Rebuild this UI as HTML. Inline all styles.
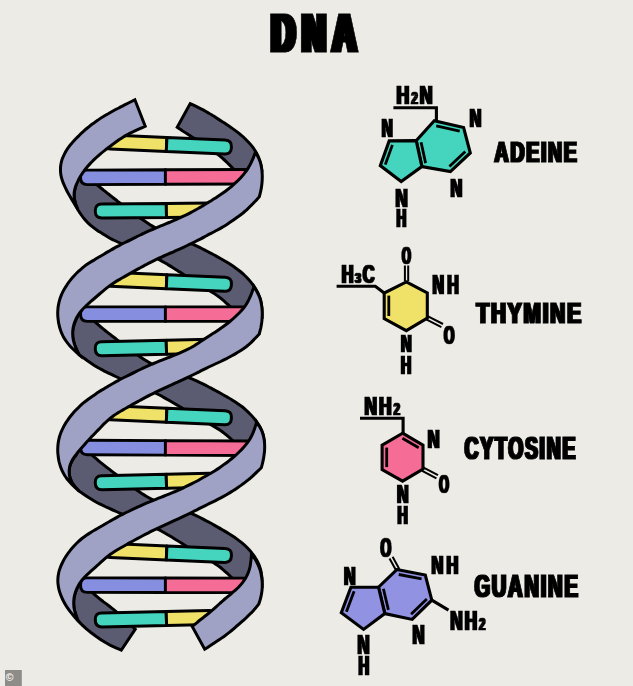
<!DOCTYPE html>
<html lang="en"><head><meta charset="utf-8"><title>DNA</title>
<style>
html,body{margin:0;padding:0;background:#ecebe6;}
body{width:633px;height:686px;overflow:hidden;}
svg{display:block;}
text{font-family:"Liberation Sans",sans-serif;font-weight:bold;fill:#000;}
</style></head><body>
<svg width="633" height="686" viewBox="0 0 633 686">
<defs><filter id="fat1" filterUnits="userSpaceOnUse" x="0" y="0" width="633" height="686"><feMorphology operator="dilate" radius="1 0"/></filter><filter id="fat2" filterUnits="userSpaceOnUse" x="0" y="0" width="633" height="686"><feMorphology operator="dilate" radius="2 0"/></filter><filter id="fat3" filterUnits="userSpaceOnUse" x="0" y="0" width="633" height="686"><feMorphology operator="dilate" radius="3 0"/></filter></defs>
<rect width="633" height="686" fill="#ecebe6"/>
<g stroke="#000" stroke-width="3.0" stroke-linejoin="miter" stroke-miterlimit="6">
<g><path d="M190.2 103.6C191.1 104.0 193.8 105.3 195.6 106.2C197.4 107.1 199.2 108.0 201.0 108.9C202.8 109.8 204.5 110.7 206.3 111.7C208.0 112.7 209.8 113.7 211.5 114.7C213.2 115.8 214.9 116.8 216.6 117.9C218.2 119.0 219.9 120.1 221.6 121.2C223.3 122.3 224.9 123.4 226.6 124.5C228.3 125.6 229.9 126.7 231.6 127.9C233.2 129.1 234.8 130.2 236.4 131.4C238.0 132.6 239.6 133.9 241.1 135.2C242.7 136.5 244.2 137.8 245.6 139.2C247.0 140.6 248.4 142.0 249.7 143.5C251.1 145.0 252.3 146.6 253.5 148.2C254.6 149.9 255.7 151.6 256.7 153.3C257.6 155.1 258.5 156.9 259.1 158.7C259.8 160.6 260.3 162.5 260.8 164.5C261.2 166.4 261.6 169.4 261.8 170.4L240.0 176.0C239.3 175.3 237.2 173.0 235.8 171.5C234.4 170.0 233.0 168.5 231.6 167.0C230.2 165.6 228.7 164.1 227.3 162.7C225.8 161.2 224.3 159.8 222.8 158.5C221.3 157.1 219.7 155.8 218.1 154.6C216.5 153.3 214.8 152.1 213.1 150.9C211.5 149.7 209.7 148.6 208.0 147.5C206.3 146.3 204.6 145.2 202.9 144.1C201.2 143.0 199.5 141.8 197.8 140.7C196.1 139.6 194.4 138.5 192.6 137.4C190.9 136.2 189.2 135.1 187.5 134.0C185.8 132.9 184.1 131.8 182.3 130.7C180.6 129.5 178.1 127.9 177.2 127.3Z" fill="#5b5c72"/>
<path d="M80.0 172.0C80.8 172.6 83.2 174.4 84.7 175.6C86.3 176.7 87.9 177.9 89.5 179.1C91.0 180.3 92.6 181.5 94.2 182.7C95.8 183.9 97.3 185.2 98.9 186.4C100.4 187.6 102.0 188.8 103.5 190.1C105.0 191.3 106.6 192.6 108.1 193.8C109.7 195.0 111.2 196.3 112.8 197.5C114.3 198.7 115.9 199.9 117.4 201.1C119.0 202.3 120.6 203.5 122.2 204.7C123.7 205.9 125.3 207.1 126.9 208.3C128.5 209.4 130.1 210.6 131.7 211.8C133.2 213.0 134.8 214.1 136.4 215.3C138.0 216.5 139.6 217.6 141.3 218.8C142.9 219.9 144.5 221.0 146.1 222.1C147.8 223.2 149.4 224.3 151.1 225.4C152.8 226.4 154.5 227.4 156.2 228.4C157.9 229.4 159.6 230.3 161.4 231.2C163.2 232.1 165.0 233.0 166.8 233.8C168.6 234.6 170.4 235.3 172.2 236.1C174.1 236.8 175.9 237.5 177.8 238.2C179.6 238.9 181.5 239.6 183.3 240.3C185.1 241.0 187.0 241.7 188.8 242.5C190.6 243.2 192.4 244.0 194.2 244.8C196.0 245.7 197.8 246.5 199.6 247.4C201.4 248.3 203.1 249.2 204.9 250.1C206.7 251.0 208.4 251.9 210.1 252.8C211.9 253.7 213.6 254.7 215.4 255.6C217.1 256.6 218.8 257.6 220.5 258.5C222.3 259.5 224.0 260.5 225.7 261.5C227.3 262.5 229.0 263.6 230.7 264.6C232.4 265.7 234.0 266.8 235.6 268.0C237.2 269.1 238.8 270.3 240.3 271.5C241.9 272.8 243.4 274.1 244.8 275.5C246.2 276.8 247.6 278.3 248.9 279.8C250.2 281.2 251.4 282.8 252.6 284.4C253.8 286.0 254.9 287.6 255.9 289.3C256.9 291.0 257.9 292.8 258.6 294.6C259.4 296.4 260.1 298.2 260.6 300.1C261.1 302.0 261.4 304.0 261.6 305.9C261.9 307.9 262.0 309.9 262.0 311.8C262.1 313.8 262.1 316.8 262.1 317.8L262.1 317.8C260.1 318.8 254.3 324.5 250.0 323.6C245.7 322.7 238.3 314.3 236.0 312.5L236.0 312.5C235.3 311.8 233.2 309.7 231.8 308.3C230.3 306.9 228.9 305.5 227.5 304.1C226.0 302.8 224.5 301.4 223.0 300.2C221.5 298.9 219.9 297.6 218.3 296.4C216.7 295.3 215.1 294.1 213.4 293.0C211.8 292.0 210.1 290.9 208.4 289.9C206.7 288.9 204.9 287.9 203.2 286.8C201.5 285.8 199.8 284.8 198.1 283.8C196.4 282.7 194.7 281.7 193.0 280.6C191.4 279.6 189.7 278.5 188.0 277.4C186.3 276.3 184.7 275.2 183.0 274.1C181.3 273.1 179.7 272.0 178.0 270.9C176.3 269.8 174.7 268.7 173.0 267.7C171.3 266.6 169.6 265.6 167.9 264.6C166.2 263.5 164.5 262.5 162.7 261.6C161.0 260.6 159.2 259.6 157.5 258.7C155.7 257.9 153.9 257.0 152.1 256.2C150.2 255.4 148.4 254.6 146.6 253.9C144.7 253.1 142.9 252.4 141.0 251.7C139.2 250.9 137.3 250.2 135.5 249.5C133.6 248.7 131.8 248.0 129.9 247.2C128.1 246.4 126.3 245.7 124.4 244.9C122.6 244.1 120.8 243.4 118.9 242.5C117.1 241.7 115.3 240.9 113.5 240.0C111.8 239.1 110.0 238.2 108.3 237.2C106.5 236.2 104.8 235.2 103.1 234.1C101.4 233.1 99.8 232.0 98.1 230.9C96.5 229.8 94.8 228.7 93.2 227.4C91.6 226.2 90.1 225.0 88.7 223.6C87.2 222.3 85.9 220.8 84.6 219.3C83.3 217.8 82.2 216.2 81.0 214.5C79.9 212.9 78.3 210.3 77.8 209.5L77.8 209.5C77.5 208.6 76.3 206.0 75.7 204.2C75.2 202.5 74.6 200.7 74.4 198.9C74.1 197.1 74.1 195.3 74.2 193.5C74.4 191.7 74.8 189.9 75.2 188.1C75.7 186.3 76.3 184.5 76.8 182.7C77.4 180.9 78.0 179.2 78.5 177.4C79.0 175.6 79.7 172.9 80.0 172.0Z" fill="#5b5c72"/>
<path d="M80.0 307.7C80.7 308.4 82.8 310.4 84.3 311.8C85.7 313.2 87.1 314.5 88.6 315.9C90.0 317.3 91.5 318.6 92.9 320.0C94.4 321.3 95.8 322.6 97.3 323.9C98.8 325.3 100.3 326.5 101.9 327.8C103.4 329.1 104.9 330.3 106.5 331.6C108.0 332.8 109.6 334.0 111.1 335.2C112.7 336.4 114.3 337.6 115.9 338.8C117.4 340.0 119.0 341.2 120.6 342.4C122.2 343.6 123.8 344.8 125.4 346.0C126.9 347.2 128.5 348.4 130.1 349.6C131.7 350.7 133.3 351.9 134.9 353.1C136.5 354.2 138.1 355.4 139.8 356.5C141.4 357.6 143.1 358.7 144.7 359.8C146.4 360.8 148.1 361.9 149.8 362.8C151.6 363.8 153.3 364.7 155.1 365.6C156.9 366.5 158.7 367.3 160.5 368.1C162.3 368.9 164.2 369.6 166.0 370.3C167.9 371.0 169.8 371.6 171.6 372.2C173.5 372.8 175.4 373.4 177.3 374.0C179.2 374.6 181.1 375.1 183.0 375.7C184.9 376.3 186.8 377.0 188.6 377.6C190.5 378.3 192.3 379.1 194.1 379.8C196.0 380.6 197.8 381.4 199.6 382.3C201.3 383.1 203.1 384.0 204.9 384.9C206.6 385.8 208.4 386.8 210.1 387.7C211.9 388.6 213.6 389.6 215.4 390.5C217.1 391.4 218.9 392.4 220.6 393.3C222.4 394.3 224.1 395.2 225.8 396.2C227.5 397.2 229.3 398.2 231.0 399.2C232.7 400.2 234.3 401.3 236.0 402.4C237.6 403.5 239.3 404.6 240.8 405.8C242.4 407.0 244.0 408.3 245.5 409.6C246.9 410.9 248.4 412.2 249.8 413.7C251.2 415.1 252.5 416.5 253.8 418.1C255.0 419.6 256.3 421.2 257.4 422.8C258.5 424.4 259.6 426.1 260.5 427.9C261.4 429.6 262.1 431.5 262.7 433.3C263.3 435.2 263.7 437.1 264.0 439.1C264.3 441.0 264.4 443.0 264.5 445.0C264.5 447.0 264.4 450.0 264.4 451.0L264.4 451.0C262.4 452.0 256.5 458.0 252.1 457.2C247.7 456.3 240.4 447.8 238.1 446.0L238.1 446.0C237.4 445.3 235.3 443.1 233.9 441.8C232.4 440.4 231.0 439.0 229.5 437.7C228.0 436.4 226.5 435.1 225.0 433.9C223.4 432.6 221.8 431.4 220.2 430.3C218.6 429.2 216.9 428.1 215.2 427.1C213.5 426.1 211.7 425.1 210.0 424.2C208.3 423.2 206.5 422.3 204.8 421.3C203.0 420.4 201.3 419.4 199.6 418.4C197.8 417.5 196.1 416.5 194.4 415.5C192.7 414.5 191.0 413.5 189.3 412.5C187.6 411.4 185.9 410.4 184.2 409.4C182.5 408.3 180.8 407.3 179.1 406.3C177.4 405.2 175.7 404.2 174.0 403.2C172.3 402.2 170.6 401.2 168.9 400.2C167.2 399.2 165.4 398.2 163.7 397.3C161.9 396.3 160.2 395.4 158.4 394.5C156.6 393.6 154.8 392.8 153.0 392.0C151.2 391.1 149.4 390.4 147.6 389.6C145.7 388.9 143.9 388.2 142.0 387.4C140.2 386.7 138.3 386.0 136.5 385.3C134.6 384.6 132.8 383.9 130.9 383.2C129.1 382.4 127.2 381.7 125.4 380.9C123.6 380.2 121.8 379.4 120.0 378.5C118.2 377.7 116.4 376.9 114.6 376.0C112.8 375.1 111.0 374.3 109.2 373.4C107.5 372.5 105.7 371.7 103.9 370.8C102.1 369.9 100.4 368.9 98.6 368.0C96.9 367.0 95.2 366.0 93.6 364.9C91.9 363.8 90.3 362.7 88.6 361.6C87.0 360.4 85.4 359.2 83.8 358.1C82.2 356.9 79.8 355.1 79.0 354.6L79.0 354.6C78.5 353.6 77.1 350.8 76.3 348.9C75.4 346.9 74.6 345.0 74.1 343.0C73.5 340.9 73.0 338.9 72.8 336.8C72.6 334.7 72.6 332.6 72.8 330.5C73.0 328.5 73.6 326.4 74.2 324.5C74.8 322.5 75.8 320.6 76.5 318.7C77.2 316.8 78.0 315.0 78.6 313.1C79.2 311.3 79.8 308.6 80.0 307.7Z" fill="#5b5c72"/>
<path d="M80.2 443.9C81.0 444.6 83.2 446.7 84.6 448.1C86.1 449.4 87.6 450.8 89.1 452.2C90.6 453.6 92.0 454.9 93.5 456.3C95.0 457.6 96.6 458.9 98.1 460.3C99.6 461.6 101.2 462.9 102.7 464.1C104.3 465.4 105.9 466.7 107.5 467.9C109.1 469.2 110.7 470.4 112.3 471.6C113.9 472.8 115.5 474.1 117.1 475.3C118.7 476.5 120.3 477.7 121.9 478.9C123.5 480.1 125.1 481.4 126.7 482.6C128.3 483.8 130.0 485.0 131.6 486.2C133.2 487.4 134.8 488.6 136.5 489.8C138.1 491.0 139.8 492.1 141.4 493.3C143.1 494.4 144.8 495.5 146.6 496.5C148.3 497.5 150.1 498.5 151.9 499.4C153.7 500.3 155.5 501.1 157.3 501.9C159.2 502.7 161.1 503.5 163.0 504.2C164.9 504.9 166.8 505.5 168.7 506.2C170.6 506.8 172.5 507.4 174.5 508.0C176.4 508.6 178.3 509.1 180.3 509.7C182.2 510.3 184.1 510.9 186.0 511.6C187.9 512.2 189.8 512.9 191.7 513.7C193.6 514.4 195.4 515.3 197.2 516.1C199.1 517.0 200.9 517.9 202.7 518.8C204.4 519.7 206.2 520.7 208.0 521.7C209.8 522.6 211.5 523.6 213.3 524.6C215.0 525.6 216.8 526.6 218.6 527.6C220.3 528.6 222.1 529.6 223.8 530.6C225.5 531.6 227.3 532.7 229.0 533.7C230.7 534.8 232.4 535.9 234.1 537.0C235.7 538.2 237.4 539.3 239.0 540.6C240.6 541.8 242.2 543.1 243.7 544.4C245.2 545.7 246.6 547.1 248.0 548.6C249.4 550.1 250.8 551.6 252.0 553.2C253.3 554.8 254.5 556.4 255.5 558.1C256.6 559.8 257.6 561.6 258.4 563.4C259.3 565.2 259.9 567.1 260.5 569.1C261.0 571.0 261.4 573.0 261.6 575.0C261.9 577.0 262.0 579.0 262.0 581.0C262.1 583.0 262.1 586.1 262.1 587.1L262.1 587.1C260.1 588.1 254.3 593.8 250.0 592.9C245.7 592.1 238.3 583.7 236.0 581.9L236.0 581.9C235.3 581.2 233.1 579.0 231.7 577.6C230.2 576.2 228.8 574.8 227.3 573.4C225.8 572.0 224.3 570.6 222.7 569.3C221.2 568.0 219.6 566.8 217.9 565.6C216.3 564.4 214.6 563.3 212.9 562.2C211.2 561.1 209.4 560.1 207.7 559.1C205.9 558.1 204.2 557.1 202.4 556.0C200.7 555.0 198.9 554.0 197.2 553.0C195.4 551.9 193.7 550.9 192.0 549.8C190.2 548.7 188.5 547.6 186.8 546.6C185.1 545.5 183.4 544.4 181.7 543.3C180.0 542.2 178.3 541.1 176.5 540.0C174.8 539.0 173.1 537.9 171.4 536.8C169.6 535.8 167.9 534.7 166.1 533.7C164.4 532.7 162.6 531.7 160.8 530.7C159.0 529.8 157.2 528.9 155.4 528.0C153.6 527.1 151.7 526.3 149.9 525.5C148.0 524.6 146.1 523.9 144.3 523.1C142.4 522.4 140.5 521.6 138.6 520.9C136.7 520.2 134.8 519.4 132.9 518.7C131.0 517.9 129.2 517.2 127.3 516.4C125.4 515.6 123.6 514.8 121.7 514.0C119.9 513.2 118.0 512.3 116.2 511.5C114.3 510.6 112.5 509.8 110.6 509.0C108.8 508.1 106.9 507.3 105.1 506.5C103.3 505.6 101.4 504.8 99.6 503.9C97.8 503.0 96.0 502.0 94.2 501.0C92.5 500.0 90.7 498.9 89.0 497.8C87.3 496.7 85.7 495.6 84.0 494.4C82.3 493.3 79.9 491.5 79.0 490.9L79.0 490.9C78.3 490.2 76.1 488.1 74.8 486.6C73.6 485.0 72.4 483.4 71.5 481.6C70.7 479.9 70.0 478.0 69.6 476.0C69.2 474.1 69.0 472.0 69.2 470.1C69.3 468.1 69.8 466.1 70.5 464.3C71.2 462.4 72.3 460.7 73.3 459.0C74.3 457.3 75.7 455.7 76.7 454.1C77.7 452.4 78.5 450.8 79.1 449.1C79.7 447.4 80.1 444.8 80.2 443.9Z" fill="#5b5c72"/><path d="M81.0 581.1C81.7 581.8 83.8 584.0 85.3 585.4C86.7 586.8 88.1 588.3 89.6 589.7C91.0 591.1 92.5 592.5 93.9 593.8C95.4 595.2 96.9 596.5 98.5 597.8C100.0 599.1 101.6 600.3 103.2 601.6C104.8 602.8 106.5 604.0 108.1 605.2C109.7 606.4 111.3 607.7 112.8 608.9C114.4 610.2 116.0 611.5 117.5 612.8C119.0 614.1 120.5 615.5 122.0 616.8C123.5 618.2 125.0 619.6 126.4 620.9C127.9 622.3 129.4 623.7 130.9 625.1C132.3 626.4 134.6 628.5 135.3 629.2L121.3 650.2C120.4 649.8 117.7 648.6 115.9 647.8C114.1 647.0 112.4 646.2 110.6 645.3C108.9 644.4 107.2 643.5 105.5 642.5C103.8 641.5 102.1 640.5 100.5 639.4C98.8 638.3 97.2 637.2 95.6 636.1C94.0 634.9 92.5 633.7 90.9 632.5C89.4 631.3 87.9 630.1 86.4 628.8C85.0 627.5 83.5 626.1 82.1 624.8C80.7 623.4 78.7 621.3 78.0 620.6L78.0 620.6C77.6 619.7 76.5 616.9 75.9 615.0C75.3 613.1 74.7 611.2 74.3 609.3C73.9 607.3 73.7 605.3 73.7 603.4C73.6 601.4 73.8 599.4 74.2 597.5C74.5 595.6 75.0 593.6 75.7 591.8C76.4 589.9 77.2 588.1 78.1 586.3C79.0 584.6 80.5 582.0 81.0 581.1Z" fill="#5b5c72"/></g>
<g><path d="M166.9 137.5 L110.9 135.1 Q104.3 134.8 104.0 141.4 L104.0 142.2 Q103.7 148.8 110.3 149.1 L166.3 151.5 Z" fill="#f0e268" stroke="#000" stroke-width="3.0" stroke-linejoin="round"/><path d="M166.9 137.5 L225.1 140.0 Q231.7 140.3 231.4 146.9 L231.4 147.7 Q231.1 154.3 224.5 154.0 L166.3 151.5 Z" fill="#45d4be" stroke="#000" stroke-width="3.0" stroke-linejoin="round"/>
<path d="M165.4 169.8 L87.2 170.1 Q80.6 170.2 80.6 176.8 L80.6 178.0 Q80.6 184.6 87.2 184.6 L165.4 184.3 Z" fill="#868ee0" stroke="#000" stroke-width="2.9" stroke-linejoin="round"/><path d="M165.4 169.8 L249.4 169.5 Q256.0 169.5 256.0 176.1 L256.0 177.3 Q256.0 183.9 249.4 184.0 L165.4 184.3 Z" fill="#f56d97" stroke="#000" stroke-width="2.9" stroke-linejoin="round"/>
<path d="M166.3 203.4 L101.8 204.0 Q95.2 204.1 95.3 210.7 L95.3 211.5 Q95.4 218.1 102.0 218.0 L166.5 217.4 Z" fill="#45d4be" stroke="#000" stroke-width="3.0" stroke-linejoin="round"/><path d="M166.3 203.4 L209.3 203.0 Q215.9 202.9 216.0 209.5 L216.0 210.3 Q216.1 216.9 209.5 217.0 L166.5 217.4 Z" fill="#f0e268" stroke="#000" stroke-width="3.0" stroke-linejoin="round"/>
<path d="M166.9 274.7 L110.9 272.3 Q104.3 272.0 104.0 278.6 L104.0 279.4 Q103.7 286.0 110.3 286.3 L166.3 288.7 Z" fill="#f0e268" stroke="#000" stroke-width="3.0" stroke-linejoin="round"/><path d="M166.9 274.7 L225.1 277.2 Q231.7 277.5 231.4 284.1 L231.4 284.9 Q231.1 291.5 224.5 291.2 L166.3 288.7 Z" fill="#45d4be" stroke="#000" stroke-width="3.0" stroke-linejoin="round"/>
<path d="M165.4 306.9 L87.2 306.9 Q80.6 306.9 80.6 313.6 L80.6 314.8 Q80.6 321.4 87.2 321.4 L165.4 321.4 Z" fill="#868ee0" stroke="#000" stroke-width="2.9" stroke-linejoin="round"/><path d="M165.4 306.9 L249.4 306.9 Q256.0 306.9 256.0 313.6 L256.0 314.8 Q256.0 321.4 249.4 321.4 L165.4 321.4 Z" fill="#f56d97" stroke="#000" stroke-width="2.9" stroke-linejoin="round"/>
<path d="M166.2 340.3 L101.7 341.8 Q95.1 341.9 95.3 348.5 L95.3 349.3 Q95.5 355.9 102.1 355.8 L166.6 354.3 Z" fill="#45d4be" stroke="#000" stroke-width="3.0" stroke-linejoin="round"/><path d="M166.2 340.3 L209.2 339.3 Q215.8 339.2 216.0 345.8 L216.0 346.6 Q216.2 353.2 209.6 353.3 L166.6 354.3 Z" fill="#f0e268" stroke="#000" stroke-width="3.0" stroke-linejoin="round"/>
<path d="M166.9 408.2 L110.9 405.8 Q104.3 405.5 104.0 412.1 L104.0 412.9 Q103.7 419.5 110.3 419.8 L166.3 422.2 Z" fill="#f0e268" stroke="#000" stroke-width="3.0" stroke-linejoin="round"/><path d="M166.9 408.2 L225.1 410.7 Q231.7 411.0 231.4 417.6 L231.4 418.4 Q231.1 425.0 224.5 424.7 L166.3 422.2 Z" fill="#45d4be" stroke="#000" stroke-width="3.0" stroke-linejoin="round"/>
<path d="M165.4 440.6 L87.2 440.3 Q80.6 440.3 80.6 446.9 L80.6 448.1 Q80.6 454.7 87.2 454.8 L165.4 455.1 Z" fill="#868ee0" stroke="#000" stroke-width="2.9" stroke-linejoin="round"/><path d="M165.4 440.6 L249.4 441.0 Q256.0 441.1 256.0 447.7 L256.0 448.9 Q256.0 455.5 249.4 455.5 L165.4 455.1 Z" fill="#f56d97" stroke="#000" stroke-width="2.9" stroke-linejoin="round"/>
<path d="M166.2 474.2 L101.7 475.7 Q95.1 475.8 95.3 482.4 L95.3 483.2 Q95.5 489.8 102.1 489.7 L166.6 488.2 Z" fill="#45d4be" stroke="#000" stroke-width="3.0" stroke-linejoin="round"/><path d="M166.2 474.2 L209.2 473.2 Q215.8 473.1 216.0 479.7 L216.0 480.5 Q216.2 487.1 209.6 487.2 L166.6 488.2 Z" fill="#f0e268" stroke="#000" stroke-width="3.0" stroke-linejoin="round"/>
<path d="M166.9 545.9 L110.9 543.5 Q104.3 543.2 104.0 549.8 L104.0 550.6 Q103.7 557.2 110.3 557.5 L166.3 559.9 Z" fill="#f0e268" stroke="#000" stroke-width="3.0" stroke-linejoin="round"/><path d="M166.9 545.9 L225.1 548.4 Q231.7 548.7 231.4 555.3 L231.4 556.1 Q231.1 562.7 224.5 562.4 L166.3 559.9 Z" fill="#45d4be" stroke="#000" stroke-width="3.0" stroke-linejoin="round"/>
<path d="M165.4 578.0 L87.2 577.9 Q80.6 577.9 80.6 584.5 L80.6 585.7 Q80.6 592.3 87.2 592.4 L165.4 592.5 Z" fill="#868ee0" stroke="#000" stroke-width="2.9" stroke-linejoin="round"/><path d="M165.4 578.0 L249.4 578.1 Q256.0 578.2 256.0 584.8 L256.0 586.0 Q256.0 592.6 249.4 592.6 L165.4 592.5 Z" fill="#f56d97" stroke="#000" stroke-width="2.9" stroke-linejoin="round"/>
<path d="M166.2 611.4 L101.7 612.9 Q95.1 613.0 95.3 619.6 L95.3 620.4 Q95.5 627.0 102.1 626.9 L166.6 625.4 Z" fill="#45d4be" stroke="#000" stroke-width="3.0" stroke-linejoin="round"/><path d="M166.2 611.4 L209.2 610.4 Q215.8 610.3 216.0 616.9 L216.0 617.7 Q216.2 624.3 209.6 624.4 L166.6 625.4 Z" fill="#f0e268" stroke="#000" stroke-width="3.0" stroke-linejoin="round"/></g>
<g><path d="M134.9 99.8C134.0 100.3 131.3 101.6 129.5 102.5C127.7 103.4 125.9 104.3 124.1 105.2C122.4 106.1 120.6 107.0 118.8 108.0C117.0 108.9 115.2 109.8 113.4 110.8C111.7 111.7 109.9 112.7 108.2 113.7C106.4 114.7 104.7 115.7 103.0 116.8C101.3 117.8 99.6 118.9 98.0 120.1C96.3 121.2 94.7 122.4 93.1 123.6C91.4 124.8 89.9 126.0 88.3 127.3C86.7 128.5 85.2 129.8 83.7 131.2C82.2 132.5 80.7 133.9 79.3 135.3C77.9 136.6 76.4 138.1 75.1 139.5C73.7 141.0 72.3 142.5 71.1 144.1C69.8 145.6 68.6 147.2 67.4 148.9C66.3 150.6 65.3 152.3 64.4 154.1C63.5 155.9 62.7 157.7 62.0 159.6C61.4 161.5 61.0 163.5 60.7 165.5C60.4 167.5 60.4 169.5 60.5 171.5C60.6 173.4 60.9 175.4 61.4 177.4C61.9 179.3 62.5 181.2 63.3 183.1C64.0 185.0 64.9 186.8 65.8 188.6C66.6 190.4 67.6 192.2 68.6 193.9C69.6 195.7 70.6 197.4 71.6 199.2C72.6 200.9 73.7 202.6 74.7 204.3C75.7 206.1 77.3 208.6 77.8 209.5L77.8 209.5C77.4 208.6 76.2 205.8 75.6 203.9C75.1 202.0 74.5 200.1 74.3 198.2C74.0 196.3 74.0 194.4 74.2 192.5C74.4 190.5 74.9 188.6 75.5 186.8C76.1 184.9 76.9 183.1 77.8 181.3C78.6 179.5 79.6 177.7 80.6 176.0C81.6 174.4 82.7 172.7 83.9 171.1C85.0 169.5 86.3 168.0 87.5 166.5C88.8 165.0 90.2 163.6 91.5 162.2C92.9 160.7 94.3 159.4 95.8 158.0C97.2 156.7 98.7 155.4 100.2 154.1C101.7 152.8 103.2 151.6 104.8 150.4C106.3 149.2 107.9 148.0 109.5 146.8C111.0 145.6 112.6 144.4 114.2 143.3C115.8 142.1 117.4 141.0 119.0 139.8C120.7 138.7 122.3 137.7 124.0 136.6C125.7 135.6 127.4 134.7 129.1 133.7C130.8 132.8 132.6 131.9 134.4 131.1C136.2 130.3 138.0 129.5 139.8 128.7C141.6 127.9 144.3 126.7 145.2 126.3Z" fill="#9fa2c5"/>
<path d="M255.5 152.0C255.1 152.9 254.1 155.8 253.4 157.7C252.6 159.5 251.8 161.4 250.9 163.2C250.0 165.0 249.0 166.8 248.0 168.4C246.9 170.1 245.7 171.8 244.4 173.3C243.2 174.9 241.8 176.4 240.5 177.9C239.1 179.4 237.7 180.8 236.2 182.2C234.7 183.6 233.2 185.0 231.7 186.3C230.2 187.6 228.6 188.8 227.0 190.0C225.4 191.3 223.7 192.4 222.1 193.6C220.4 194.7 218.7 195.8 217.0 196.9C215.4 198.0 213.6 199.1 211.9 200.2C210.2 201.2 208.5 202.3 206.8 203.3C205.1 204.4 203.3 205.4 201.6 206.5C199.9 207.5 198.1 208.5 196.4 209.5C194.6 210.5 192.9 211.5 191.1 212.4C189.3 213.4 187.5 214.3 185.7 215.2C183.9 216.0 182.0 216.9 180.2 217.7C178.4 218.6 176.5 219.4 174.7 220.2C172.8 221.0 171.0 221.7 169.1 222.5C167.2 223.3 165.4 224.0 163.5 224.8C161.6 225.6 159.8 226.3 157.9 227.1C156.0 227.9 154.2 228.7 152.3 229.5C150.5 230.3 148.6 231.1 146.8 231.9C145.0 232.8 143.2 233.7 141.3 234.5C139.5 235.4 137.7 236.3 135.9 237.1C134.1 238.0 132.3 238.9 130.5 239.8C128.6 240.7 126.8 241.6 125.0 242.5C123.2 243.4 121.4 244.3 119.7 245.3C117.9 246.2 116.1 247.2 114.3 248.1C112.6 249.1 110.8 250.1 109.1 251.1C107.3 252.1 105.6 253.1 103.9 254.2C102.1 255.2 100.4 256.2 98.6 257.3C96.9 258.3 95.2 259.3 93.5 260.4C91.7 261.4 90.0 262.5 88.3 263.6C86.7 264.7 85.0 265.9 83.4 267.1C81.9 268.4 80.3 269.7 78.8 271.0C77.4 272.4 75.9 273.8 74.6 275.3C73.2 276.8 71.9 278.3 70.6 279.9C69.3 281.5 68.1 283.1 67.0 284.8C65.9 286.4 64.8 288.2 63.8 289.9C62.9 291.7 62.0 293.5 61.2 295.4C60.5 297.2 59.8 299.2 59.3 301.1C58.8 303.0 58.4 305.0 58.1 307.0C57.9 309.0 57.7 311.0 57.7 313.1C57.7 315.1 57.8 317.1 58.1 319.1C58.3 321.1 58.6 323.1 59.1 325.1C59.5 327.1 60.1 329.0 60.8 330.9C61.5 332.8 62.3 334.6 63.2 336.4C64.2 338.2 65.3 339.9 66.4 341.5C67.6 343.2 68.9 344.7 70.2 346.2C71.6 347.7 73.0 349.1 74.5 350.5C75.9 351.9 78.2 353.9 79.0 354.6L79.0 354.6C78.6 353.6 77.2 350.9 76.4 349.1C75.6 347.2 74.8 345.4 74.2 343.4C73.6 341.5 73.2 339.5 72.9 337.5C72.7 335.6 72.6 333.5 72.7 331.5C72.8 329.5 73.1 327.5 73.6 325.6C74.1 323.6 74.7 321.7 75.6 319.9C76.4 318.0 77.4 316.3 78.5 314.6C79.6 312.9 80.9 311.3 82.2 309.8C83.5 308.3 85.0 306.9 86.4 305.5C87.9 304.1 89.4 302.7 90.9 301.4C92.5 300.1 94.0 298.8 95.5 297.5C97.1 296.1 98.6 294.8 100.1 293.5C101.6 292.2 103.2 290.8 104.7 289.6C106.3 288.3 107.9 287.1 109.5 285.9C111.1 284.7 112.8 283.6 114.5 282.5C116.2 281.4 117.9 280.4 119.7 279.4C121.4 278.3 123.2 277.4 124.9 276.4C126.7 275.4 128.4 274.4 130.2 273.4C132.0 272.4 133.7 271.4 135.5 270.4C137.2 269.4 139.0 268.5 140.8 267.5C142.6 266.6 144.3 265.6 146.1 264.7C147.9 263.7 149.7 262.8 151.5 261.9C153.3 261.0 155.1 260.1 156.9 259.2C158.8 258.4 160.6 257.5 162.4 256.7C164.3 255.9 166.1 255.0 167.9 254.2C169.8 253.4 171.6 252.6 173.5 251.8C175.3 250.9 177.2 250.1 179.0 249.3C180.8 248.5 182.7 247.6 184.5 246.8C186.3 245.9 188.2 245.1 190.0 244.2C191.8 243.3 193.6 242.5 195.4 241.5C197.2 240.6 199.0 239.7 200.8 238.8C202.6 237.9 204.4 236.9 206.1 236.0C207.9 235.0 209.7 234.1 211.5 233.2C213.3 232.2 215.1 231.3 216.9 230.3C218.6 229.4 220.4 228.4 222.1 227.4C223.9 226.3 225.6 225.3 227.3 224.2C229.0 223.1 230.6 222.0 232.3 220.8C234.0 219.7 235.6 218.5 237.2 217.3C238.9 216.1 240.5 214.9 242.1 213.7C243.6 212.4 245.2 211.1 246.7 209.8C248.2 208.5 249.6 207.1 251.0 205.6C252.5 204.2 253.8 202.7 255.2 201.3C256.6 199.8 258.6 197.5 259.3 196.8L259.3 196.8C259.5 195.9 260.3 193.1 260.7 191.2C261.1 189.3 261.5 187.4 261.7 185.5C262.0 183.6 262.1 181.6 262.2 179.7C262.3 177.8 262.3 175.8 262.2 173.9C262.1 171.9 261.9 170.0 261.6 168.1C261.3 166.2 260.9 164.3 260.4 162.5C259.8 160.6 259.1 158.9 258.2 157.1C257.4 155.4 256.0 152.9 255.5 152.0Z" fill="#9fa2c5"/>
<path d="M254.0 286.7C253.7 287.7 252.6 290.5 251.9 292.4C251.2 294.3 250.5 296.2 249.6 298.0C248.8 299.9 247.9 301.7 246.8 303.4C245.8 305.1 244.6 306.7 243.4 308.3C242.1 309.9 240.8 311.3 239.4 312.8C238.0 314.2 236.5 315.6 235.0 317.0C233.5 318.4 232.0 319.7 230.4 321.0C228.9 322.3 227.3 323.6 225.7 324.8C224.1 326.0 222.5 327.2 220.8 328.3C219.2 329.5 217.5 330.6 215.8 331.7C214.1 332.8 212.4 333.8 210.7 334.9C209.0 336.0 207.3 337.1 205.6 338.2C203.9 339.4 202.3 340.5 200.6 341.6C198.9 342.7 197.2 343.9 195.5 344.9C193.8 346.0 192.1 347.0 190.3 348.0C188.5 348.9 186.7 349.8 184.9 350.7C183.1 351.5 181.2 352.3 179.4 353.1C177.5 353.9 175.6 354.6 173.8 355.4C171.9 356.1 170.0 356.9 168.1 357.6C166.3 358.4 164.4 359.1 162.5 359.8C160.6 360.6 158.8 361.3 156.9 362.1C155.0 362.9 153.2 363.6 151.3 364.4C149.5 365.2 147.6 366.1 145.8 366.9C144.0 367.7 142.1 368.6 140.3 369.5C138.5 370.3 136.7 371.2 134.9 372.1C133.0 373.0 131.2 373.9 129.4 374.8C127.6 375.7 125.8 376.6 124.0 377.5C122.2 378.4 120.4 379.3 118.7 380.3C116.9 381.2 115.1 382.2 113.4 383.2C111.6 384.2 109.9 385.2 108.1 386.2C106.4 387.3 104.7 388.3 103.0 389.4C101.2 390.4 99.5 391.5 97.8 392.6C96.2 393.7 94.5 394.8 92.8 396.0C91.1 397.1 89.5 398.3 87.9 399.5C86.3 400.7 84.7 401.9 83.1 403.2C81.6 404.5 80.1 405.9 78.7 407.3C77.2 408.7 75.8 410.1 74.4 411.6C73.1 413.1 71.8 414.7 70.5 416.3C69.3 417.8 68.1 419.5 67.0 421.2C65.8 422.8 64.8 424.6 63.8 426.3C62.9 428.1 62.0 429.9 61.2 431.8C60.5 433.7 59.8 435.6 59.3 437.5C58.8 439.5 58.4 441.5 58.1 443.5C57.9 445.4 57.8 447.5 57.7 449.5C57.7 451.5 57.8 453.5 58.1 455.5C58.3 457.5 58.6 459.6 59.0 461.5C59.5 463.5 60.0 465.4 60.7 467.3C61.4 469.2 62.2 471.1 63.2 472.8C64.1 474.6 65.2 476.3 66.4 478.0C67.6 479.6 68.9 481.1 70.2 482.6C71.5 484.1 73.0 485.5 74.5 486.9C75.9 488.3 78.3 490.3 79.0 490.9L79.0 490.9C78.3 490.2 76.1 488.1 74.9 486.6C73.6 485.1 72.4 483.4 71.5 481.7C70.7 479.9 70.0 478.0 69.6 476.1C69.2 474.2 69.1 472.1 69.2 470.2C69.3 468.2 69.7 466.2 70.3 464.4C71.0 462.5 71.9 460.7 72.9 459.0C73.9 457.3 75.1 455.7 76.4 454.1C77.6 452.5 78.9 451.0 80.2 449.5C81.5 447.9 82.8 446.4 84.2 444.9C85.5 443.4 86.8 441.9 88.2 440.5C89.5 439.0 90.9 437.6 92.3 436.1C93.6 434.7 95.0 433.3 96.4 431.8C97.8 430.4 99.2 428.9 100.6 427.5C102.0 426.1 103.3 424.6 104.8 423.2C106.2 421.8 107.6 420.4 109.2 419.2C110.7 417.9 112.3 416.7 113.9 415.5C115.5 414.4 117.2 413.4 118.9 412.3C120.6 411.3 122.4 410.3 124.1 409.3C125.8 408.3 127.6 407.3 129.3 406.3C131.0 405.3 132.8 404.3 134.5 403.3C136.3 402.4 138.0 401.4 139.7 400.5C141.5 399.5 143.3 398.6 145.0 397.6C146.8 396.7 148.6 395.8 150.3 394.9C152.1 394.0 153.9 393.1 155.7 392.2C157.5 391.3 159.3 390.5 161.1 389.6C162.9 388.8 164.7 388.0 166.6 387.1C168.4 386.3 170.2 385.5 172.0 384.7C173.8 383.8 175.6 383.0 177.5 382.2C179.3 381.3 181.1 380.5 182.9 379.7C184.7 378.8 186.5 378.0 188.3 377.1C190.1 376.3 191.9 375.4 193.7 374.5C195.5 373.6 197.3 372.7 199.1 371.8C200.8 370.9 202.6 370.0 204.4 369.1C206.2 368.2 208.0 367.4 209.8 366.5C211.6 365.6 213.4 364.8 215.2 364.0C217.0 363.2 218.9 362.3 220.7 361.5C222.5 360.6 224.2 359.8 226.0 358.9C227.8 357.9 229.6 357.0 231.3 356.0C233.1 355.1 234.8 354.1 236.5 353.1C238.2 352.0 240.0 351.0 241.6 349.9C243.3 348.8 244.9 347.7 246.5 346.5C248.0 345.2 249.5 343.9 251.0 342.6C252.4 341.2 253.8 339.8 255.2 338.3C256.6 336.9 258.6 334.7 259.3 334.0L259.3 334.0C259.5 333.0 260.3 330.0 260.8 328.0C261.2 326.0 261.5 324.0 261.8 321.9C262.0 319.9 262.2 317.8 262.2 315.8C262.3 313.7 262.3 311.6 262.1 309.6C262.0 307.5 261.7 305.5 261.3 303.5C260.9 301.5 260.4 299.5 259.7 297.6C259.0 295.7 258.1 293.9 257.2 292.1C256.2 290.2 254.5 287.6 254.0 286.7Z" fill="#9fa2c5"/>
<path d="M256.6 422.1C256.3 423.0 255.5 425.9 254.9 427.8C254.3 429.7 253.6 431.6 252.8 433.4C252.0 435.2 251.1 437.0 250.1 438.7C249.1 440.4 247.9 442.0 246.7 443.6C245.5 445.2 244.2 446.7 242.8 448.2C241.5 449.7 240.1 451.1 238.6 452.5C237.2 453.9 235.7 455.2 234.2 456.5C232.7 457.8 231.2 459.1 229.6 460.3C228.0 461.6 226.4 462.8 224.8 463.9C223.2 465.1 221.6 466.3 219.9 467.4C218.3 468.5 216.6 469.6 214.9 470.7C213.2 471.7 211.5 472.8 209.8 473.8C208.1 474.8 206.4 475.8 204.6 476.8C202.9 477.8 201.2 478.7 199.4 479.7C197.7 480.7 195.9 481.6 194.1 482.5C192.4 483.4 190.6 484.3 188.8 485.2C187.0 486.1 185.2 487.0 183.4 487.8C181.6 488.6 179.8 489.5 177.9 490.3C176.1 491.1 174.3 491.9 172.4 492.6C170.6 493.4 168.7 494.2 166.9 494.9C165.0 495.6 163.2 496.4 161.3 497.1C159.5 497.8 157.6 498.6 155.8 499.3C153.9 500.0 152.1 500.8 150.2 501.6C148.4 502.3 146.5 503.1 144.7 503.9C142.9 504.7 141.1 505.6 139.3 506.4C137.4 507.2 135.6 508.1 133.8 508.9C132.0 509.7 130.2 510.6 128.4 511.5C126.6 512.3 124.8 513.2 123.0 514.1C121.3 515.0 119.5 515.9 117.7 516.9C116.0 517.8 114.2 518.8 112.5 519.8C110.8 520.8 109.0 521.8 107.3 522.8C105.6 523.8 103.9 524.8 102.2 525.8C100.4 526.8 98.7 527.8 97.0 528.8C95.3 529.8 93.5 530.8 91.8 531.8C90.1 532.9 88.4 533.9 86.7 535.0C85.1 536.1 83.5 537.3 81.9 538.5C80.4 539.8 78.9 541.1 77.4 542.5C76.0 543.9 74.6 545.3 73.3 546.8C71.9 548.3 70.7 549.8 69.5 551.4C68.2 553.0 67.1 554.6 66.0 556.3C64.9 558.0 63.9 559.7 63.0 561.5C62.1 563.3 61.2 565.1 60.5 567.0C59.8 568.8 59.1 570.7 58.7 572.7C58.3 574.6 58.0 576.6 57.9 578.6C57.8 580.5 57.8 582.5 58.1 584.5C58.3 586.5 58.7 588.4 59.2 590.4C59.7 592.3 60.4 594.2 61.2 596.1C61.9 597.9 62.7 599.7 63.7 601.5C64.6 603.3 65.6 605.0 66.7 606.7C67.8 608.3 68.9 610.0 70.2 611.6C71.4 613.1 72.7 614.7 74.0 616.2C75.3 617.7 77.3 619.9 78.0 620.6L78.0 620.6C77.6 619.7 76.5 616.9 75.9 615.0C75.3 613.1 74.7 611.2 74.3 609.2C73.9 607.3 73.7 605.3 73.7 603.4C73.7 601.4 73.8 599.4 74.1 597.4C74.5 595.5 75.0 593.5 75.6 591.7C76.2 589.8 77.0 587.9 78.0 586.2C78.9 584.4 80.0 582.8 81.2 581.2C82.3 579.6 83.7 578.1 85.0 576.7C86.4 575.3 87.9 573.9 89.4 572.6C90.8 571.2 92.3 569.9 93.8 568.6C95.3 567.3 96.8 565.9 98.3 564.6C99.7 563.3 101.2 561.9 102.7 560.6C104.2 559.3 105.7 558.0 107.2 556.7C108.8 555.5 110.3 554.3 112.0 553.2C113.6 552.1 115.3 551.0 117.0 550.0C118.7 549.0 120.4 548.0 122.2 547.0C123.9 546.0 125.6 545.1 127.4 544.1C129.1 543.1 130.9 542.2 132.6 541.2C134.3 540.3 136.1 539.3 137.8 538.4C139.6 537.4 141.3 536.5 143.1 535.5C144.8 534.6 146.6 533.7 148.4 532.8C150.1 531.9 151.9 531.0 153.7 530.1C155.5 529.3 157.3 528.4 159.1 527.6C160.9 526.7 162.7 525.9 164.5 525.1C166.3 524.2 168.1 523.4 169.9 522.6C171.7 521.8 173.5 521.0 175.3 520.1C177.2 519.3 179.0 518.5 180.8 517.6C182.6 516.8 184.3 515.9 186.1 515.1C187.9 514.2 189.7 513.4 191.5 512.5C193.3 511.6 195.1 510.7 196.9 509.9C198.6 509.0 200.4 508.1 202.2 507.2C204.0 506.3 205.8 505.4 207.5 504.5C209.3 503.6 211.1 502.8 212.9 501.9C214.7 501.0 216.4 500.1 218.2 499.2C220.0 498.3 221.7 497.4 223.5 496.4C225.2 495.5 226.9 494.5 228.6 493.4C230.3 492.4 232.0 491.3 233.7 490.3C235.3 489.2 237.0 488.1 238.6 487.0C240.3 485.9 241.9 484.7 243.5 483.6C245.1 482.4 246.7 481.2 248.2 479.9C249.8 478.7 251.3 477.3 252.7 476.0C254.2 474.7 255.6 473.3 257.0 471.9C258.5 470.5 260.6 468.4 261.3 467.7L261.3 467.7C261.6 466.8 262.4 463.9 262.8 462.0C263.2 460.0 263.7 458.1 263.9 456.1C264.2 454.1 264.5 452.1 264.6 450.1C264.7 448.1 264.7 446.1 264.6 444.1C264.5 442.1 264.3 440.1 263.9 438.2C263.6 436.3 263.0 434.3 262.4 432.5C261.7 430.6 260.8 428.9 259.8 427.1C258.8 425.4 257.1 422.9 256.6 422.1Z" fill="#9fa2c5"/><path d="M251.5 553.8C252.0 554.6 253.7 557.1 254.8 558.8C255.8 560.4 256.8 562.2 257.6 563.9C258.5 565.7 259.2 567.5 259.9 569.4C260.5 571.3 261.0 573.2 261.3 575.1C261.7 577.0 262.0 579.0 262.1 581.0C262.3 582.9 262.3 584.9 262.2 586.9C262.2 588.9 262.0 590.9 261.7 592.8C261.4 594.7 261.0 596.7 260.5 598.6C260.0 600.5 259.0 603.3 258.7 604.2L258.7 604.2C258.1 605.0 256.3 607.3 255.0 608.8C253.7 610.2 252.4 611.7 251.0 613.1C249.7 614.5 248.2 615.9 246.8 617.2C245.4 618.6 243.9 619.8 242.4 621.2C241.0 622.5 239.5 623.8 238.0 625.0C236.5 626.3 235.1 627.6 233.6 628.9C232.1 630.2 230.6 631.4 229.0 632.6C227.5 633.8 225.9 635.0 224.3 636.2C222.7 637.3 221.1 638.5 219.5 639.6C217.9 640.7 216.2 641.8 214.6 642.8C213.0 643.9 211.3 645.0 209.7 646.0C208.0 647.1 205.5 648.7 204.7 649.2L192.2 626.4C193.0 625.8 195.4 623.9 197.0 622.6C198.5 621.3 200.1 620.0 201.7 618.8C203.3 617.5 204.9 616.2 206.5 615.0C208.1 613.7 209.7 612.4 211.2 611.1C212.8 609.8 214.3 608.5 215.8 607.1C217.3 605.8 218.8 604.4 220.3 603.0C221.9 601.7 223.4 600.3 224.9 599.0C226.4 597.7 228.0 596.4 229.6 595.1C231.1 593.8 232.7 592.5 234.2 591.2C235.7 589.8 237.3 588.4 238.7 587.0C240.1 585.5 241.5 584.0 242.7 582.4C243.9 580.8 245.1 579.1 246.1 577.3C247.1 575.6 247.9 573.7 248.6 571.8C249.3 569.9 249.8 568.0 250.2 566.0C250.6 564.0 250.8 561.9 251.0 559.9C251.3 557.9 251.4 554.8 251.5 553.8Z" fill="#9fa2c5"/></g>
</g>
<g stroke="#000" stroke-linejoin="miter" stroke-linecap="butt"><polygon points="434.3,120.8 463.6,127.5 470.3,153.0 450.4,171.6 421.9,166.6 416.2,140.6" fill="#45d4be" stroke-width="3.1"/><polygon points="416.2,140.6 389.2,140.9 380.3,165.6 401.2,181.6 421.9,166.6" fill="#45d4be" stroke-width="3.1"/><line x1="436.2" y1="125.8" x2="459.7" y2="131.1" stroke-width="2.8"/><line x1="465.3" y1="151.6" x2="449.4" y2="166.5" stroke-width="2.8"/><line x1="425.6" y1="163.1" x2="421.1" y2="142.3" stroke-width="2.8"/><line x1="392.4" y1="144.9" x2="385.3" y2="164.6" stroke-width="2.8"/><polyline points="393.4,107.7 436.4,107.7 436.4,120.8" fill="none" stroke-width="3.1"/><polygon points="406.3,281.9 427.3,293.0 427.3,318.0 406.3,330.6 384.2,318.6 384.2,293.0" fill="#f0e268" stroke-width="3.1"/><line x1="388.8" y1="316.0" x2="388.8" y2="295.6" stroke-width="2.8"/><polyline points="336.6,286.3 375.3,286.3 384.2,293.0" fill="none" stroke-width="3.1"/><line x1="404.9" y1="265.5" x2="404.9" y2="281.0" stroke-width="2.0"/><line x1="408.2" y1="265.5" x2="408.2" y2="281.0" stroke-width="2.0"/><line x1="427.6" y1="316.2" x2="443.0" y2="324.0" stroke-width="2.0"/><line x1="426.2" y1="319.4" x2="441.4" y2="327.2" stroke-width="2.0"/><polygon points="402.6,433.2 423.0,445.2 423.0,469.1 402.6,481.2 382.1,469.5 382.1,445.2" fill="#f56d97" stroke-width="3.1"/><line x1="386.7" y1="467.1" x2="386.7" y2="447.6" stroke-width="2.8"/><line x1="402.4" y1="438.2" x2="418.7" y2="447.8" stroke-width="2.8"/><polyline points="360.0,418.2 403.1,418.2 403.1,433.2" fill="none" stroke-width="3.1"/><line x1="423.6" y1="467.6" x2="438.0" y2="475.2" stroke-width="2.0"/><line x1="422.2" y1="470.8" x2="436.4" y2="478.4" stroke-width="2.0"/><polygon points="396.8,569.6 425.3,575.0 431.8,600.2 412.2,619.4 384.8,613.6 378.5,587.2" fill="#9192e2" stroke-width="3.1"/><polygon points="378.5,587.2 350.9,587.2 341.3,612.8 363.6,629.4 384.8,613.6" fill="#9192e2" stroke-width="3.1"/><line x1="398.8" y1="574.5" x2="421.6" y2="578.8" stroke-width="2.8"/><line x1="426.8" y1="599.0" x2="411.1" y2="614.3" stroke-width="2.8"/><line x1="388.4" y1="609.9" x2="383.4" y2="588.8" stroke-width="2.8"/><line x1="354.1" y1="591.3" x2="346.4" y2="611.8" stroke-width="2.8"/><line x1="431.8" y1="600.2" x2="448.5" y2="610.2" stroke-width="3.1"/><line x1="389.5" y1="558.5" x2="396.2" y2="570.6" stroke-width="2.0"/><line x1="392.6" y1="556.8" x2="399.3" y2="568.9" stroke-width="2.0"/></g>
<g filter="url(#fat3)"><text transform="translate(271.25 52.25) scale(0.585 1)" font-size="56.25" letter-spacing="11.81" stroke="#000" stroke-width="0.90" stroke-linejoin="miter">DNA</text></g>
<g filter="url(#fat1)"><text transform="translate(396.60 104.30) scale(0.690 1)" font-size="25.58" letter-spacing="3.07" stroke="#000" stroke-width="0.40" stroke-linejoin="miter">H<tspan font-size="15.86">2</tspan>N</text></g>
<g filter="url(#fat1)"><text transform="translate(381.70 137.00) scale(0.599 1)" font-size="25.44" letter-spacing="5.09" stroke="#000" stroke-width="0.40" stroke-linejoin="miter">N</text></g>
<g filter="url(#fat1)"><text transform="translate(469.70 126.60) scale(0.641 1)" font-size="24.85" letter-spacing="4.97" stroke="#000" stroke-width="0.40" stroke-linejoin="miter">N</text></g>
<g filter="url(#fat1)"><text transform="translate(450.40 196.50) scale(0.633 1)" font-size="25.58" letter-spacing="5.12" stroke="#000" stroke-width="0.40" stroke-linejoin="miter">N</text></g>
<g filter="url(#fat1)"><text transform="translate(395.40 206.90) scale(0.646 1)" font-size="26.16" letter-spacing="5.23" stroke="#000" stroke-width="0.40" stroke-linejoin="miter">N</text></g>
<g filter="url(#fat1)"><text transform="translate(396.60 227.40) scale(0.528 1)" font-size="25.44" letter-spacing="5.09" stroke="#000" stroke-width="0.40" stroke-linejoin="miter">H</text></g>
<g filter="url(#fat1)"><text transform="translate(494.60 162.30) scale(0.653 1)" font-size="29.80" letter-spacing="2.68" stroke="#000" stroke-width="1.00" stroke-linejoin="miter">ADEINE</text></g>
<g filter="url(#fat1)"><text transform="translate(401.90 264.30) scale(0.459 1)" font-size="24.64" letter-spacing="4.93" stroke="#000" stroke-width="0.40" stroke-linejoin="miter">O</text></g>
<g filter="url(#fat1)"><text transform="translate(341.70 283.30) scale(0.650 1)" font-size="24.93" letter-spacing="2.99" stroke="#000" stroke-width="0.40" stroke-linejoin="miter">H<tspan font-size="15.46">3</tspan>C</text></g>
<g filter="url(#fat1)"><text transform="translate(432.40 294.40) scale(0.592 1)" font-size="27.03" letter-spacing="5.41" stroke="#000" stroke-width="0.40" stroke-linejoin="miter">NH</text></g>
<g filter="url(#fat1)"><text transform="translate(443.90 343.50) scale(0.521 1)" font-size="25.64" letter-spacing="5.13" stroke="#000" stroke-width="0.40" stroke-linejoin="miter">O</text></g>
<g filter="url(#fat1)"><text transform="translate(401.00 351.90) scale(0.616 1)" font-size="23.84" letter-spacing="4.77" stroke="#000" stroke-width="0.40" stroke-linejoin="miter">N</text></g>
<g filter="url(#fat1)"><text transform="translate(401.00 374.00) scale(0.538 1)" font-size="26.02" letter-spacing="5.20" stroke="#000" stroke-width="0.40" stroke-linejoin="miter">H</text></g>
<g filter="url(#fat1)"><text transform="translate(476.50 323.40) scale(0.686 1)" font-size="30.23" letter-spacing="2.72" stroke="#000" stroke-width="1.00" stroke-linejoin="miter">THYMINE</text></g>
<g filter="url(#fat1)"><text transform="translate(364.40 415.00) scale(0.669 1)" font-size="26.02" letter-spacing="3.12" stroke="#000" stroke-width="0.40" stroke-linejoin="miter">NH<tspan font-size="16.13">2</tspan></text></g>
<g filter="url(#fat1)"><text transform="translate(427.70 448.10) scale(0.628 1)" font-size="26.02" letter-spacing="5.20" stroke="#000" stroke-width="0.40" stroke-linejoin="miter">N</text></g>
<g filter="url(#fat1)"><text transform="translate(439.20 493.00) scale(0.481 1)" font-size="25.64" letter-spacing="5.13" stroke="#000" stroke-width="0.40" stroke-linejoin="miter">O</text></g>
<g filter="url(#fat1)"><text transform="translate(397.10 503.40) scale(0.637 1)" font-size="25.00" letter-spacing="5.00" stroke="#000" stroke-width="0.40" stroke-linejoin="miter">N</text></g>
<g filter="url(#fat1)"><text transform="translate(397.60 524.40) scale(0.564 1)" font-size="25.29" letter-spacing="5.06" stroke="#000" stroke-width="0.40" stroke-linejoin="miter">H</text></g>
<g filter="url(#fat1)"><text transform="translate(464.60 458.60) scale(0.617 1)" font-size="31.38" letter-spacing="2.82" stroke="#000" stroke-width="1.00" stroke-linejoin="miter">CYTOSINE</text></g>
<g filter="url(#fat1)"><text transform="translate(380.40 557.00) scale(0.505 1)" font-size="27.22" letter-spacing="5.44" stroke="#000" stroke-width="0.40" stroke-linejoin="miter">O</text></g>
<g filter="url(#fat1)"><text transform="translate(431.40 574.40) scale(0.637 1)" font-size="25.58" letter-spacing="5.12" stroke="#000" stroke-width="0.40" stroke-linejoin="miter">NH</text></g>
<g filter="url(#fat1)"><text transform="translate(450.20 629.50) scale(0.623 1)" font-size="27.62" letter-spacing="3.31" stroke="#000" stroke-width="0.40" stroke-linejoin="miter">NH<tspan font-size="17.12">2</tspan></text></g>
<g filter="url(#fat1)"><text transform="translate(412.60 644.20) scale(0.602 1)" font-size="27.62" letter-spacing="5.52" stroke="#000" stroke-width="0.40" stroke-linejoin="miter">N</text></g>
<g filter="url(#fat1)"><text transform="translate(344.10 585.20) scale(0.619 1)" font-size="25.73" letter-spacing="5.15" stroke="#000" stroke-width="0.40" stroke-linejoin="miter">N</text></g>
<g filter="url(#fat1)"><text transform="translate(357.60 654.20) scale(0.602 1)" font-size="27.62" letter-spacing="5.52" stroke="#000" stroke-width="0.40" stroke-linejoin="miter">N</text></g>
<g filter="url(#fat1)"><text transform="translate(358.40 675.10) scale(0.549 1)" font-size="26.74" letter-spacing="5.35" stroke="#000" stroke-width="0.40" stroke-linejoin="miter">H</text></g>
<g filter="url(#fat1)"><text transform="translate(474.40 597.20) scale(0.640 1)" font-size="31.38" letter-spacing="2.82" stroke="#000" stroke-width="1.00" stroke-linejoin="miter">GUANINE</text></g>
<rect x="5" y="670" width="16.8" height="16" fill="#8e8c88"/><text x="9.7" y="681.0" font-size="10.5" text-anchor="middle" style="fill:#fbfaf7;font-weight:bold">©</text>
</svg>
</body></html>
